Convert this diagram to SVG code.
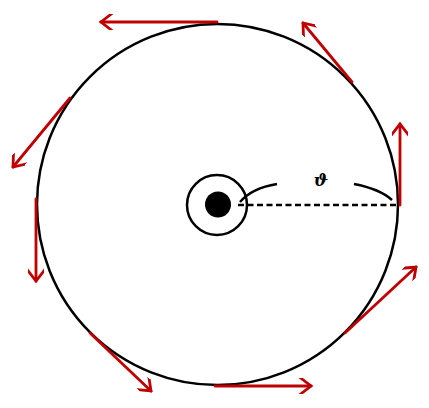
<svg xmlns="http://www.w3.org/2000/svg" width="429" height="408" viewBox="0 0 429 408">
<style>
.blk{fill:none;stroke:#000;stroke-width:2.5}
.arr{fill:none;stroke:#c00000;stroke-width:2.8;stroke-linecap:round;marker-end:url(#ah)}
</style>
<defs>
<marker id="ah" viewBox="-14 -8 16 16" markerWidth="16" markerHeight="16" refX="0" refY="0" orient="auto" markerUnits="userSpaceOnUse">
<path d="M-11,-8.5 L0,0 L-11,8.5" fill="none" stroke="#c00000" stroke-width="2.8" stroke-linecap="round" stroke-linejoin="miter"/>
</marker>
</defs>
<rect width="429" height="408" fill="#fff"/>
<g id="wheel">
<circle class="blk" cx="217.5" cy="204.5" r="180.5"/>
</g>
<g id="axle">
<circle class="blk" cx="217" cy="205" r="30"/>
<circle cx="218" cy="204.5" r="13" fill="#000"/>
</g>
<g id="radius">
<line x1="238" y1="205" x2="398" y2="205" stroke="#000" stroke-width="2.5" stroke-dasharray="6,3.5"/>
<path class="blk" d="M240,202 Q252,188 277,184"/>
<path class="blk" d="M354,184 Q380,189 392,200"/>
<text x="321" y="186" font-family="DejaVu Serif, serif" font-style="italic" font-weight="bold" font-size="17" text-anchor="middle">ϑ</text>
</g>
<g id="connectors">
<line class="arr" x1="217" y1="22" x2="101" y2="22"/>
<line class="arr" x1="352" y1="82" x2="303" y2="23"/>
<line class="arr" x1="400" y1="205" x2="400" y2="124"/>
<line class="arr" x1="345" y1="333" x2="416" y2="267"/>
<line class="arr" x1="215" y1="386" x2="311" y2="386"/>
<line class="arr" x1="90" y1="333" x2="151" y2="391"/>
<line class="arr" x1="36" y1="199" x2="36" y2="281"/>
<line class="arr" x1="70" y1="98" x2="13" y2="167"/>
</g>
</svg>
